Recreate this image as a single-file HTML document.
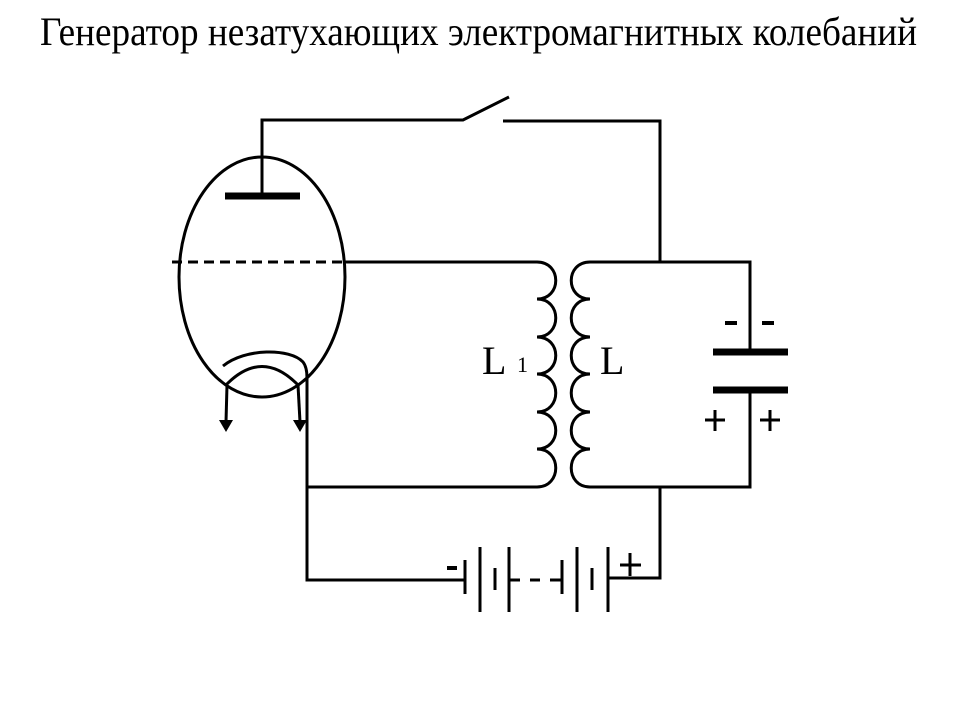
<!DOCTYPE html>
<html><head><meta charset="utf-8"><style>
html,body{margin:0;padding:0;background:#fff;}
svg{display:block;}
</style></head><body>
<svg width="960" height="720" viewBox="0 0 960 720" xmlns="http://www.w3.org/2000/svg">
<text x="40" y="45" font-family="Liberation Serif, serif" font-size="40" textLength="877" lengthAdjust="spacingAndGlyphs" fill="#000">Генератор незатухающих электромагнитных колебаний</text>
<g fill="none" stroke="#000" stroke-width="3">
<polyline points="262,195 262,120 463,120 509,97"/>
<polyline points="503,121 660,121 660,262"/>
<ellipse cx="262" cy="277" rx="83" ry="120"/>
<line x1="225" y1="196" x2="300" y2="196" stroke-width="7"/>
<line x1="172" y1="262" x2="345" y2="262" stroke-dasharray="10,6"/>
<line x1="345" y1="262" x2="537" y2="262"/>
<path d="M223,366 C245,348 290,348 303,362 Q307,367 307,378 L307,487"/>
<path d="M226,385 Q262,348 298,385"/>
<line x1="227" y1="385" x2="226" y2="422"/>
<line x1="298" y1="385" x2="300" y2="422"/>
<path d="M537,262 C562,262 562,299 537,299 C562,299 562,337 537,337 C562,337 562,374 537,374 C562,374 562,412 537,412 C562,412 562,449 537,449 C562,449 562,487 537,487"/>
<path d="M590,262 C565,262 565,299 590,299 C565,299 565,337 590,337 C565,337 565,374 590,374 C565,374 565,412 590,412 C565,412 565,449 590,449 C565,449 565,487 590,487"/>
<polyline points="590,262 750,262 750,352"/>
<polyline points="750,390 750,487 590,487"/>
<line x1="537" y1="487" x2="307" y2="487"/>
<line x1="713" y1="352" x2="788" y2="352" stroke-width="7"/>
<line x1="713" y1="390" x2="788" y2="390" stroke-width="7"/>
<polyline points="660,487 660,578 608,578"/>
<polyline points="307,487 307,580 465,580"/>
<line x1="465" y1="560" x2="465" y2="594"/>
<line x1="480" y1="547" x2="480" y2="612"/>
<line x1="495" y1="568" x2="495" y2="590"/>
<line x1="509" y1="547" x2="509" y2="612"/>
<line x1="509" y1="580" x2="520" y2="580"/>
<line x1="530" y1="580" x2="540" y2="580"/>
<line x1="550" y1="580" x2="562" y2="580"/>
<line x1="562" y1="560" x2="562" y2="594"/>
<line x1="577" y1="547" x2="577" y2="612"/>
<line x1="592" y1="568" x2="592" y2="590"/>
<line x1="608" y1="547" x2="608" y2="612"/>
<!-- plus signs -->
<path d="M705,420 H725 M715,410 V431"/>
<path d="M760,420 H780 M770,410 V431"/>
<path d="M620,565 H641 M630,553 V576"/>
</g>
<g fill="#000">
<polygon points="219,420 233,420 226,432"/>
<polygon points="293,420 307,420 300,432"/>
<rect x="725" y="321" width="12" height="4"/>
<rect x="762" y="321" width="12" height="4"/>
<rect x="447" y="566" width="10" height="4"/>
</g>
<g font-family="Liberation Serif, serif" fill="#000">
<text x="482" y="374" font-size="40">L</text>
<text x="517" y="372" font-size="22">1</text>
<text x="600" y="374" font-size="40">L</text>
</g>
</svg>
</body></html>
